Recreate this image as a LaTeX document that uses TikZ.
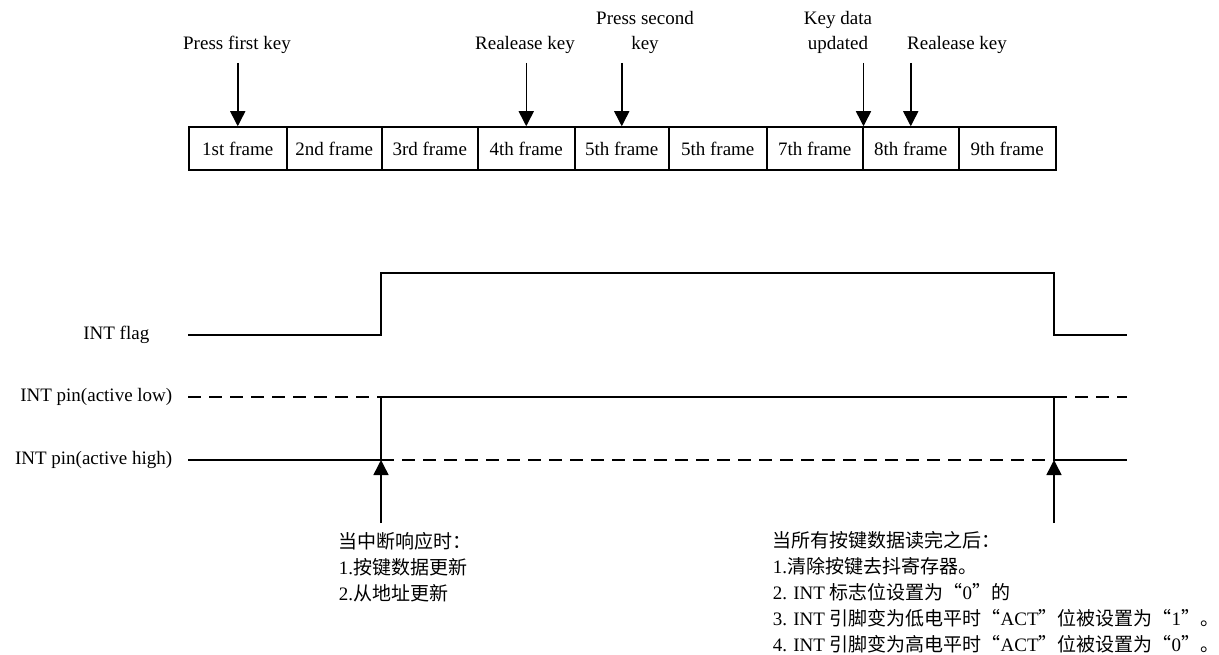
\documentclass[tikz,border=0pt]{standalone}
\usepackage{fontspec}
\setmainfont{Liberation Serif}
\newfontfamily\cjk{Noto Sans CJK SC}
\usetikzlibrary{arrows.meta}
\begin{document}
\begin{tikzpicture}[x=1pt,y=-1pt,font=\fontsize{19}{25}\selectfont,line width=1.5pt,
  framebox/.style={draw,minimum height=43pt,anchor=west,inner sep=0pt},
  lbl/.style={anchor=south,inner sep=0pt,align=center},
  sig/.style={line width=1.5pt},
  dsig/.style={line width=1.5pt,dash pattern=on 13pt off 8pt},
  tip/.style={-{Triangle[width=15pt,length=15pt]}},
  side/.style={anchor=east,inner sep=0pt},
  note/.style={anchor=north west,inner sep=0pt,align=left,font=\fontsize{19}{25.8}\selectfont}]
\useasboundingbox (0,0) rectangle (1219,655);
% frames
\node[framebox,minimum width=98pt] (f1) at (188,148.5) {1st frame};
\node[framebox,minimum width=95pt] (f2) at (286,148.5) {2nd frame};
\node[framebox,minimum width=96pt] (f3) at (381,148.5) {3rd frame};
\node[framebox,minimum width=97pt] (f4) at (477,148.5) {4th frame};
\node[framebox,minimum width=94pt] (f5) at (574,148.5) {5th frame};
\node[framebox,minimum width=98pt] (f6) at (668,148.5) {5th frame};
\node[framebox,minimum width=96pt] (f7) at (766,148.5) {7th frame};
\node[framebox,minimum width=96pt] (f8) at (862,148.5) {8th frame};
\node[framebox,minimum width=97pt] (f9) at (958,148.5) {9th frame};
% top labels
\node[lbl] (t1) at (237,54) {Press first key};
\node[lbl] (t2) at (525,54) {Realease key};
\node[lbl] (t3) at (645,54) {Press second\\key};
\node[lbl] (t4) at (838,54) {Key data\\updated};
\node[lbl] (t5) at (957,54) {Realease key};
\coordinate (a1) at (f1.north |- 0,63);
\coordinate (a2) at (f4.north |- 0,63);
\coordinate (a3) at (f5.north |- 0,63);
\coordinate (a4) at (f7.north east |- 0,63);
\coordinate (a5) at (f8.north |- 0,63);
\draw[tip] (a1) -- (f1.north);
\draw[tip] (a2) -- (f4.north);
\draw[tip] (a3) -- (f5.north);
\draw[tip] (a4) -- (f7.north east);
\draw[tip] (a5) -- (f8.north);
% signal labels
\node[side] (s1) at (150,335) {INT flag};
\node[side] (s2) at (173,397) {INT pin(active low)};
\node[side] (s3) at (173,460) {INT pin(active high)};
% INT flag
\draw[sig] (188,335) -- (381,335) -- (381,273) -- (1054,273) -- (1054,335) -- (1127,335);
% active low
\draw[dsig] (188,397) -- (381,397);
\draw[sig] (381,397) -- (1054,397);
\draw[dsig] (1054,397) -- (1127,397);
% active high
\draw[sig] (188,460) -- (381,460);
\draw[dsig] (381,460) -- (1054,460);
\draw[sig] (1054,460) -- (1127,460);
% verticals
\coordinate (e1) at (381,460);
\coordinate (e2) at (1054,460);
\coordinate (b1) at (381,523);
\coordinate (b2) at (1054,523);
\draw[sig] (381,397) -- (e1);
\draw[sig] (1054,397) -- (e2);
\draw[tip] (b1) -- (e1);
\draw[tip] (b2) -- (e2);
% notes
\node[note] (n1) at (338,532) {{\cjk 当中断响应时：}\\1.{\cjk 按键数据更新}\\2.{\cjk 从地址更新}};
\node[note] (n2) at (772,531) {{\cjk 当所有按键数据读完之后：}\\1.{\cjk 清除按键去抖寄存器。}\\2. INT {\cjk 标志位设置为“}0{\cjk ”的}\\3. INT {\cjk 引脚变为低电平时“}ACT{\cjk ”位被设置为“}1{\cjk ”。}\\4. INT {\cjk 引脚变为高电平时“}ACT{\cjk ”位被设置为“}0{\cjk ”。}};
\end{tikzpicture}
\end{document}
